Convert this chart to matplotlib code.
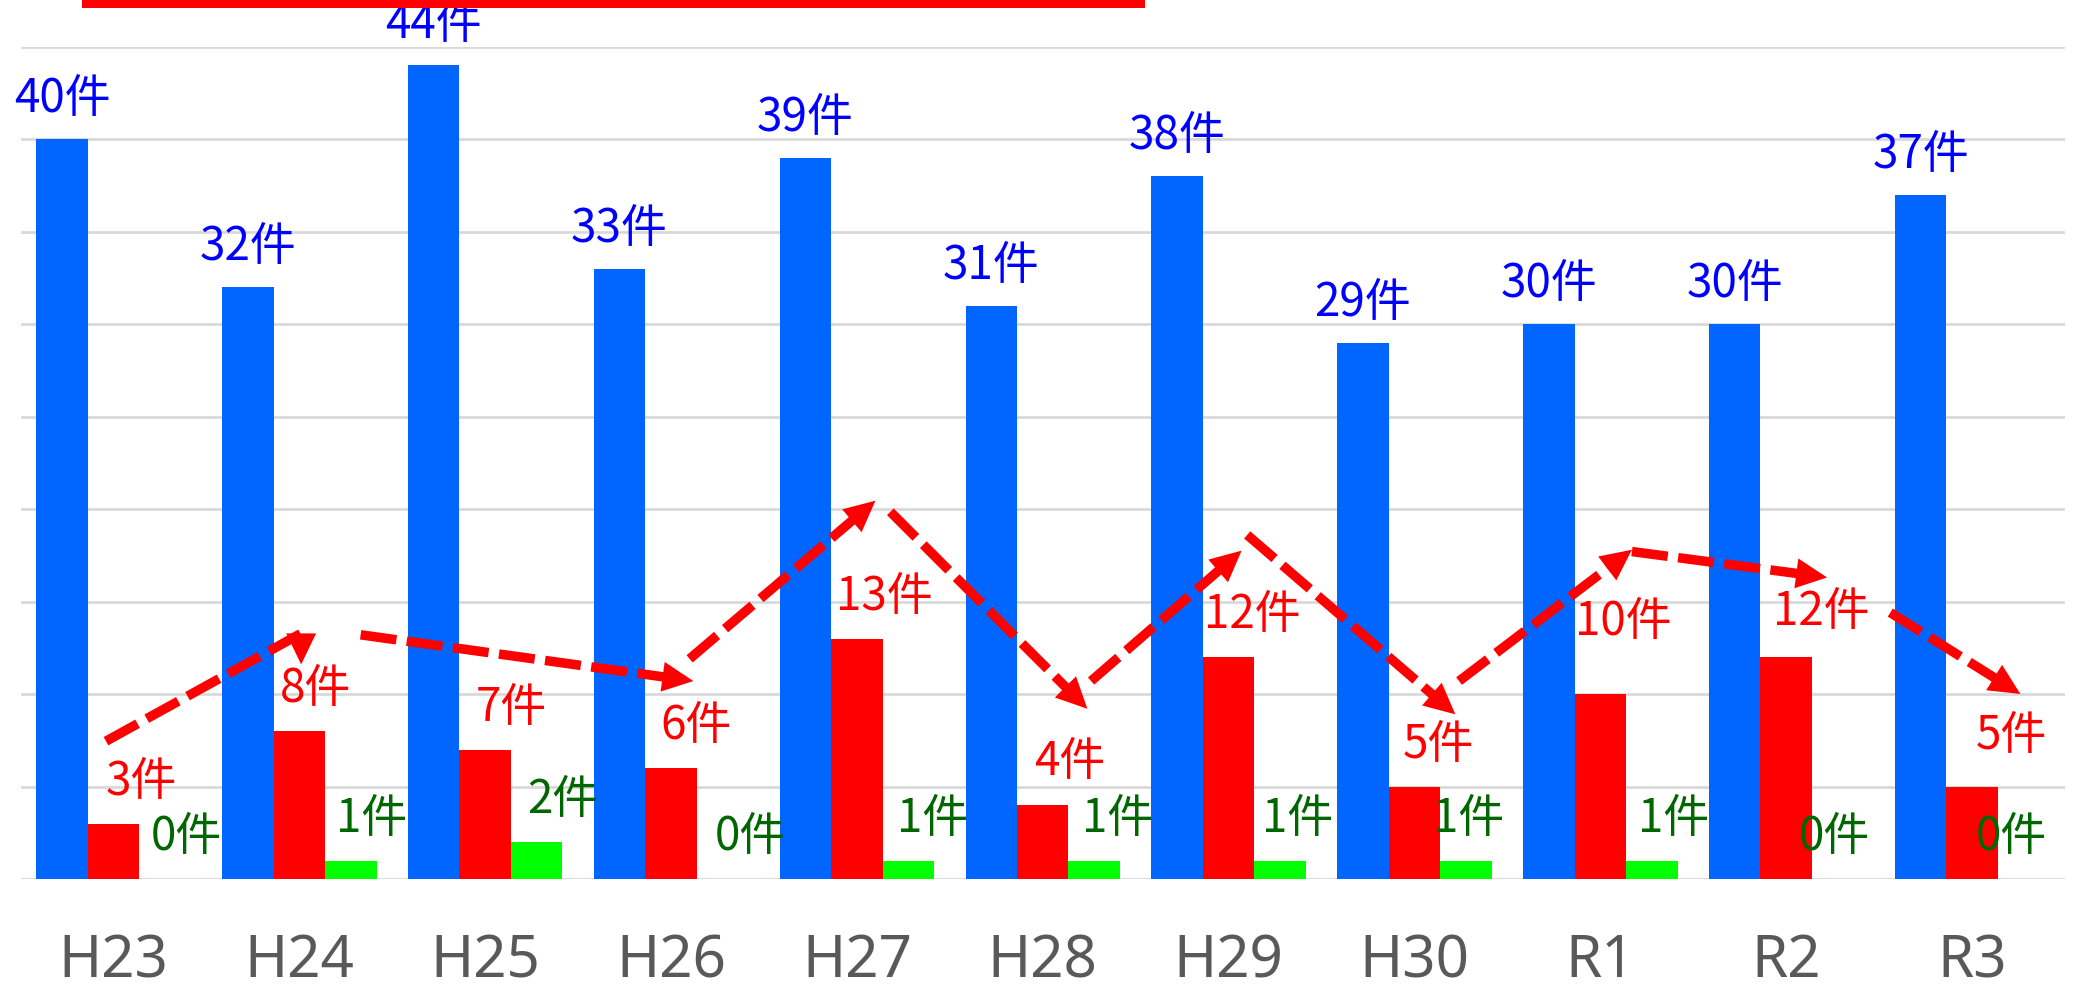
import numpy as np
import matplotlib
matplotlib.use("Agg")
import matplotlib.pyplot as plt
from matplotlib.patches import Rectangle, Polygon

# ---- data ----
years = ["H23", "H24", "H25", "H26", "H27", "H28", "H29", "H30", "R1", "R2", "R3"]
total_cases = [40, 32, 44, 33, 39, 31, 38, 29, 30, 30, 37]
red_cases = [3, 8, 7, 6, 13, 4, 12, 5, 10, 12, 5]
green_cases = [0, 1, 2, 0, 1, 1, 1, 1, 1, 0, 0]
unit = "件"

# ---- label placement (pixels right / above the bar top) ----
red_dx = [28, 16, 26, 25, 27, 27, 24, 24, 23, 35, 39]
red_dy = [43, 43, 43, 43, 43, 44, 43, 43, 73, 46, 52]
green_dx = [21, 21, 26, 28, 24, 23, 18, 3, 22, -3, -12]
green_dy = 43
blue_dy = 41

# ---- hand-drawn trend arrows over the red series ----
# each: (from year, x shift, height above red value, to year, x shift, height above red value)
trend_arrows = [
    (0, -0.04, 4.45, 1, 0.01, 3.6),
    (1, 0.33, 5.2, 3, 0.12, 4.7),
    (3, 0.10, 5.9, 4, 0.10, 7.45),
    (4, 0.18, 6.85, 5, 0.24, 5.2),
    (5, 0.26, 6.7, 6, 0.07, 5.75),
    (6, 0.10, 6.6, 7, 0.22, 3.9),
    (7, 0.24, 5.7, 8, 0.17, 7.8),
    (8, 0.17, 7.7, 9, 0.22, 4.3),
    (9, 0.56, 2.4, 10, 0.26, 5.0),
]
# first arrow's head turns downward at its end
head_override = {0: (0.0, -1.0)}

BLUE = "#0066FF"
RED = "#FF0000"
GREEN = "#00FF00"
BLUE_TXT = "#0000FF"
RED_TXT = "#FF0000"
GREEN_TXT = "#006600"
GRID = "#D9D9D9"

W, H = 2076, 995
DPI = 100
PT = 72.0 / DPI  # points per pixel
fig = plt.figure(figsize=(W / DPI, H / DPI), dpi=DPI)
ax = fig.add_axes([20.5 / W, 1 - 880 / H, (2065 - 20.5) / W, (880 - 47.5) / H])

x = np.arange(len(years))
bw = 0.277
ax.bar(x - bw, total_cases, bw, color=BLUE, zorder=2)
ax.bar(x, red_cases, bw, color=RED, zorder=2)
ax.bar(x + bw, green_cases, bw, color=GREEN, zorder=2)

ax.set_xlim(-0.5, len(years) - 0.5)
ax.set_ylim(0, 45)
ax.set_yticks(np.arange(0, 46, 5))
ax.yaxis.grid(True, color=GRID, lw=2.0, zorder=0)
ax.set_axisbelow(True)
for s in ax.spines.values():
    s.set_visible(False)
ax.tick_params(axis="y", left=False, labelleft=False)
ax.tick_params(axis="x", bottom=False, pad=34)
ax.set_xticks(x)
ax.set_xticklabels(years, fontsize=42, color="#595959", family=["Noto Sans", "DejaVu Sans"])

lab_font = ["Noto Sans CJK JP", "DejaVu Sans"]
fs = 33
for i in range(len(years)):
    ax.annotate(f"{total_cases[i]}{unit}", (x[i] - bw, total_cases[i]),
                xytext=(0, blue_dy * PT), textcoords="offset points",
                ha="center", va="center", fontsize=fs, color=BLUE_TXT,
                family=lab_font, zorder=5)
    ax.annotate(f"{red_cases[i]}{unit}", (x[i], red_cases[i]),
                xytext=(red_dx[i] * PT, red_dy[i] * PT), textcoords="offset points",
                ha="center", va="center", fontsize=fs, color=RED_TXT,
                family=lab_font, zorder=5)
    ax.annotate(f"{green_cases[i]}{unit}", (x[i] + bw, green_cases[i]),
                xytext=(green_dx[i] * PT, green_dy * PT), textcoords="offset points",
                ha="center", va="center", fontsize=fs, color=GREEN_TXT,
                family=lab_font, zorder=5)

# dashed arrows, laid out in pixel space so the heads keep their shape
fig.canvas.draw()
to_px = ax.transData.transform
to_data = ax.transData.inverted().transform
head_len, head_w = 31.0, 30.0
lw_px = 9.5
for k, (a, adx, alift, b, bdx, blift) in enumerate(trend_arrows):
    tail = to_px((a + adx, red_cases[a] + alift))
    tip = to_px((b + bdx, red_cases[b] + blift))
    u = (tip - tail) / np.hypot(*(tip - tail))
    hd = np.array(head_override.get(k, u), dtype=float)
    hd /= np.hypot(*hd)
    perp = np.array([-hd[1], hd[0]])
    base = tip - hd * head_len
    line_end = base + hd * 3 if k not in head_override else base
    seg = to_data(np.array([tail, line_end]))
    ax.plot(seg[:, 0], seg[:, 1], color=RED, lw=lw_px * PT,
            linestyle=(0, (3.8, 1.1)), dash_capstyle="butt",
            solid_capstyle="butt", zorder=4, clip_on=False)
    tri = to_data(np.array([tip, base + perp * head_w / 2, base - perp * head_w / 2]))
    ax.add_patch(Polygon(tri, closed=True, color=RED, lw=0, zorder=4, clip_on=False))

# red band along the top edge
fig.add_artist(Rectangle((82 / W, 1 - 9 / H), (1145 - 82) / W, 9 / H,
                         transform=fig.transFigure, color=RED, lw=0))

fig.savefig("out.png", dpi=DPI)
